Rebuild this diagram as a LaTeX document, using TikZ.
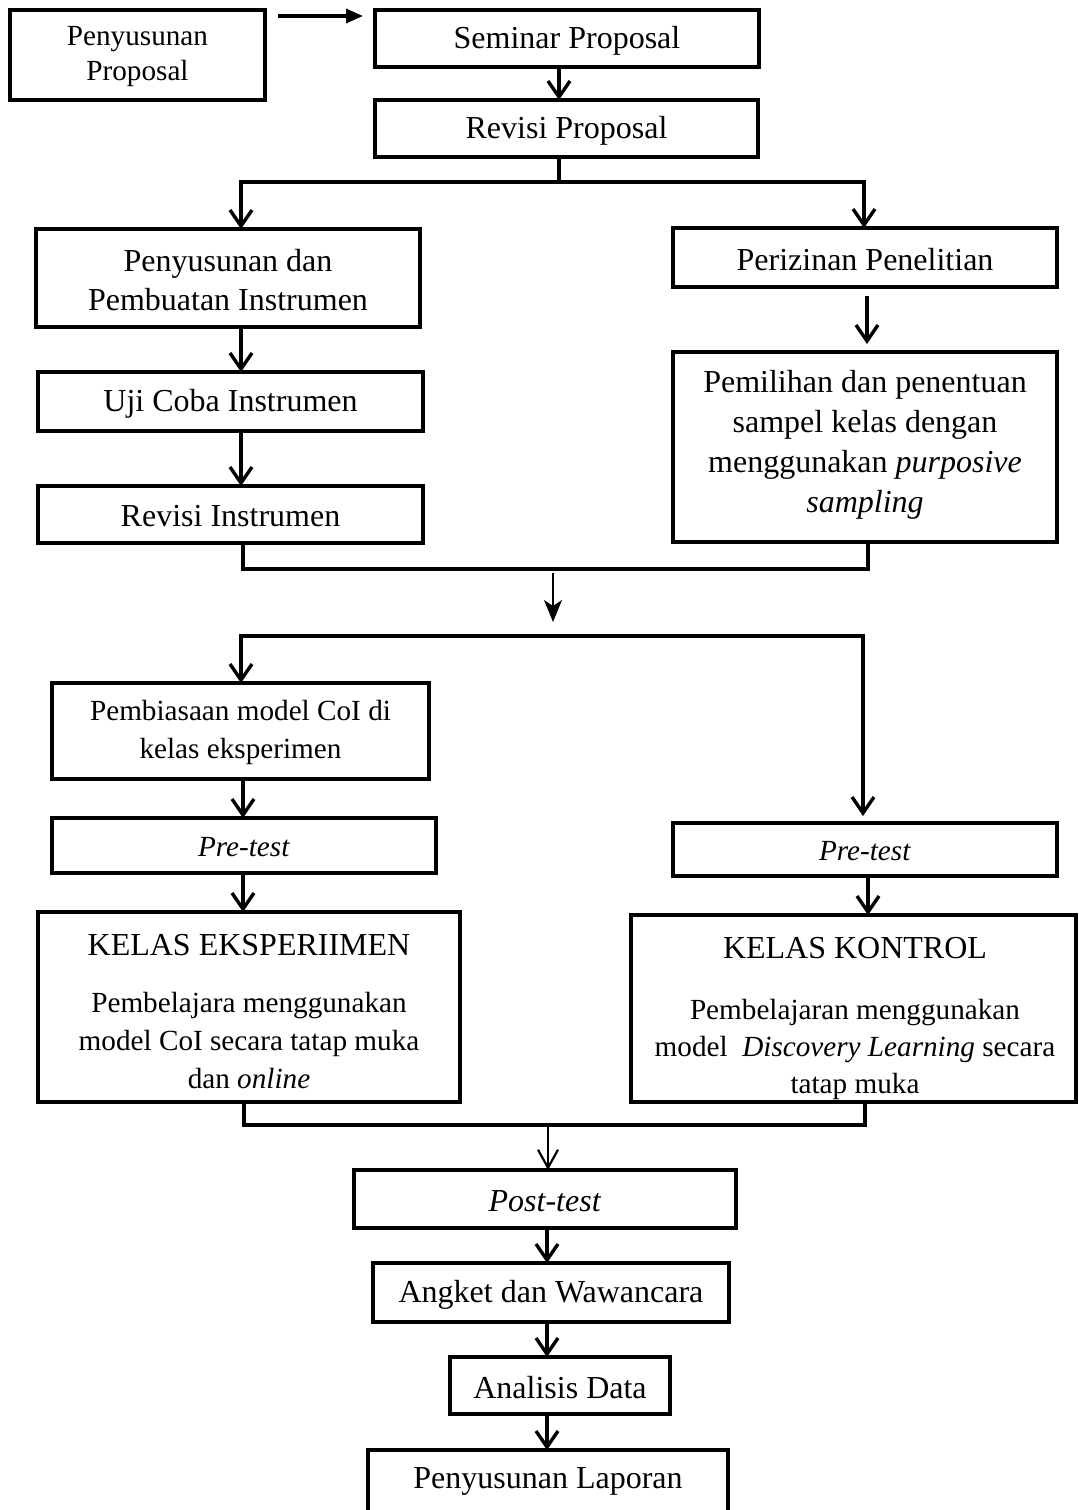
\documentclass[tikz,border=0pt]{standalone}
\usepackage{fontspec}
\setmainfont{Liberation Serif}
\usetikzlibrary{arrows.meta,calc,fit}
\newcommand{\fbig}{\fontsize{16}{19.5}\selectfont}
\newcommand{\fsmall}{\fontsize{14.6}{19}\selectfont}
\newcommand{\fpp}{\fontsize{14.6}{17.5}\selectfont}
\begin{document}
\begin{tikzpicture}[x=0.5pt,y=-0.5pt,
  box/.style={draw,line width=2pt,rectangle,inner sep=0pt,outer sep=0pt},
  txt/.style={align=center,inner sep=0pt,outer sep=0pt},
  ln/.style={line width=1.7pt},
  arr/.style={line width=1.7pt,-{Straight Barb[length=8pt,width=11pt]}},
  toparr/.style={line width=1.6pt,-{Triangle[length=8.5pt,width=7pt]}},
  thinA/.style={line width=1pt,-{Stealth[length=11pt,width=9pt,inset=3pt]}},
  thinB/.style={line width=1.1pt,-{Straight Barb[length=9pt,width=10pt]}}]
\path[use as bounding box,fill=white] (0,0) rectangle (1078,1510);

% boxes
\node[box,fit={(10,10)(265,100)}] (pp) {};
\node[box,fit={(375,10)(759,67)}] (sem) {};
\node[box,fit={(375,100)(758,157)}] (rev) {};
\node[box,fit={(36,229)(420,327)}] (pd) {};
\node[box,fit={(673,228)(1057,287)}] (izin) {};
\node[box,fit={(38,372)(423,431)}] (uji) {};
\node[box,fit={(38,486)(423,543)}] (revi) {};
\node[box,fit={(673,352)(1057,542)}] (pilih) {};
\node[box,fit={(52,683)(429,779)}] (biasa) {};
\node[box,fit={(52,818)(436,873)}] (pre1) {};
\node[box,fit={(673,823)(1057,876)}] (pre2) {};
\node[box,fit={(38,912)(460,1102)}] (eks) {};
\node[box,fit={(631,915)(1076,1102)}] (kon) {};
\node[box,fit={(354,1170)(736,1228)}] (post) {};
\node[box,fit={(373,1263)(729,1322)}] (ang) {};
\node[box,fit={(450,1357)(670,1414)}] (ana) {};
\node[box,fit={(368,1450)(728,1540)}] (lap) {};

% texts
\node[txt,font=\fpp] (tpp) at ($(pp.center)+(0,2)$) {Penyusunan\\Proposal};
\node[txt,font=\fbig] (tsem) at ($(sem.center)+(0,2)$) {Seminar Proposal};
\node[txt,font=\fbig] (trev) at ($(rev.center)+(0,2)$) {Revisi Proposal};
\node[txt,font=\fbig] (tpd) at ($(pd.center)+(0,2)$) {Penyusunan dan\\Pembuatan Instrumen};
\node[txt,font=\fbig] (tizin) at ($(izin.center)+(0,2)$) {Perizinan Penelitian};
\node[txt,font=\fbig] (tuji) at ($(uji.center)+(0,2)$) {Uji Coba Instrumen};
\node[txt,font=\fbig] (trevi) at ($(revi.center)+(0,2)$) {Revisi Instrumen};
\node[txt,font=\fontsize{16}{20}\selectfont] (tpilih) at ($(pilih.center)+(0,-2)$) {Pemilihan dan penentuan\\sampel kelas dengan\\menggunakan \textit{purposive}\\\textit{sampling}};
\node[txt,font=\fsmall] (tbiasa) at ($(biasa.center)+(0,1)$) {Pembiasaan model CoI di\\kelas eksperimen};
\node[txt,font=\fsmall] (tpre1) at ($(pre1.center)+(0,2)$) {\textit{Pre-test}};
\node[txt,font=\fsmall] (tpre2) at ($(pre2.center)+(0,2)$) {\textit{Pre-test}};
\node[txt,font=\fbig] (teksh) at (249,945) {KELAS EKSPERIIMEN};
\node[txt,font=\fsmall] (teksb) at (249,1040) {Pembelajara menggunakan\\model CoI secara tatap muka\\dan \textit{online}};
\node[txt,font=\fbig] (tkonh) at (855,948) {KELAS KONTROL};
\begin{scope}
\clip (633,917) rectangle (1074,1100);
\node[txt,font=\fontsize{14.6}{18.5}\selectfont] (tkonb) at (855,1049) {Pembelajaran menggunakan\\model\ \ \textit{Discovery Learning} secara\\tatap muka};
\end{scope}
\node[txt,font=\fbig] (tpost) at ($(post.center)+(0,2)$) {\textit{Post-test}};
\node[txt,font=\fbig] (tang) at ($(ang.center)+(0,2)$) {Angket dan Wawancara};
\node[txt,font=\fbig] (tana) at ($(ana.center)+(0,2)$) {Analisis Data};
\node[txt,font=\fbig] (tlap) at (548,1481) {Penyusunan Laporan};

% connectors
\draw[toparr] ($(pp.north east)+(13,6)$) -- ($(sem.north west)+(-12,6)$);
\draw[arr] (sem.south -| 559,0) -- (rev.north -| 559,0);
\coordinate (j1) at (559,182);
\draw[ln] (rev.south -| j1) -- (j1);
\draw[arr] (j1) -| (pd.north -| 241,0);
\draw[arr] (j1) -| (izin.north -| 864,0);
\draw[arr] (pd.south -| 241,0) -- (uji.north -| 241,0);
\draw[arr] (uji.south -| 241,0) -- (revi.north -| 241,0);
\draw[arr] ($(izin.south -| 867,0)+(0,9)$) -- ($(pilih.north -| 867,0)+(0,-8)$);

\coordinate (j2) at (553,569);
\draw[ln] (revi.south -| 243,0) |- (j2) -| (pilih.south -| 868,0);
\coordinate (j3) at (553,636);
\draw[thinA] ($(j2)+(0,4)$) -- ($(j3)+(0,-14)$);
\draw[arr] (j3) -| (biasa.north -| 241,0);
\draw[arr] (j3) -| ($(pre2.north -| 863,0)+(0,-7)$);
\draw[arr] (biasa.south -| 243,0) -- (pre1.north -| 243,0);
\draw[arr] (pre1.south -| 243,0) -- (eks.north -| 243,0);
\draw[arr] (pre2.south -| 868,0) -- (kon.north -| 868,0);

\coordinate (j4) at (548,1125);
\draw[ln] (eks.south -| 244,0) |- (j4) -| (kon.south -| 865,0);
\draw[thinB] (j4) -- (post.north -| j4);
\draw[arr] (post.south -| 547,0) -- (ang.north -| 547,0);
\draw[arr] (ang.south -| 547,0) -- (ana.north -| 547,0);
\draw[arr] (ana.south -| 547,0) -- (lap.north -| 547,0);
\end{tikzpicture}
\end{document}
